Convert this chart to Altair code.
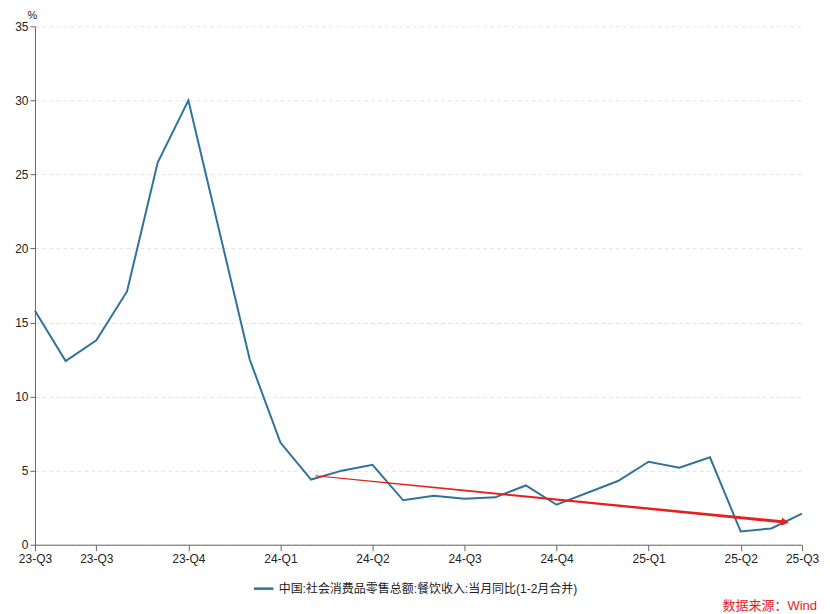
import altair as alt
import pandas as pd

# month index (0 = 2023-07 ... 25 = 2025-08); January values are merged into Jan-Feb
month_idx = [0, 1, 2, 3, 4, 5, 7, 8, 9, 10, 11, 12, 13, 14, 15, 16, 17, 19, 20, 21, 22, 23, 24, 25]
values = [15.8, 12.4, 13.8, 17.1, 25.8, 30.0, 12.5, 6.9, 4.4, 5.0, 5.4, 3.0, 3.3, 3.1, 3.2, 4.0, 2.7,
          4.3, 5.6, 5.2, 5.9, 0.9, 1.1, 2.1]
series_name = "中国:社会消费品零售总额:餐饮收入:当月同比(1-2月合并)"

tick_pos = [0, 2, 5, 8, 11, 14, 17, 20, 23, 25]
tick_labels = ["23-Q3", "23-Q3", "23-Q4", "24-Q1", "24-Q2", "24-Q3", "24-Q4", "25-Q1", "25-Q2", "25-Q3"]

# trend arrow (start / end in data units)
arrow_x = [9.15, 24.35]
arrow_y = [4.65, 1.55]
arrow_w = [1.0, 3.0]
head_x = [24.45]
head_y = [1.53]

source_text = "数据来源：Wind"

FONT = "Liberation Sans, Noto Sans CJK SC"
BLUE = "#2f7399"
RED = "#e5211d"

df = pd.DataFrame({"m": month_idx, "v": values, "s": [series_name] * len(values)})
arrow_df = pd.DataFrame({"m": arrow_x, "v": arrow_y, "w": arrow_w})
head_df = pd.DataFrame({"m": head_x, "v": head_y})

label_arr = [""] * 26
for p, l in zip(tick_pos, tick_labels):
    label_arr[p] = l
label_expr = "[" + ",".join("'" + l + "'" for l in label_arr) + "][datum.value]"

x_scale = alt.Scale(domain=[0, 25], nice=False, zero=False)
y_scale = alt.Scale(domain=[0, 35], nice=False)

x_axis = alt.Axis(values=tick_pos, labelExpr=label_expr, title=None, grid=False,
                  domainColor="#666", tickColor="#666", tickSize=6, labelPadding=3,
                  labelColor="#222", labelFontSize=12, labelFont=FONT, labelFlush=False)
y_axis = alt.Axis(values=[0, 5, 10, 15, 20, 25, 30, 35], title="%", titleAngle=0,
                  titleX=-8, titleY=-11, titleAlign="left", titleBaseline="middle",
                  titleFontWeight="normal",
                  titleFontSize=11, titleColor="#222", titleFont=FONT,
                  grid=True, gridColor="#e3e3e3", gridDash=[4, 3],
                  domainColor="#666", tickColor="#666", tickSize=5, labelPadding=2,
                  labelColor="#222", labelFontSize=12, labelFont=FONT)

line = alt.Chart(df).mark_line(strokeWidth=2).encode(
    x=alt.X("m:Q", scale=x_scale, axis=x_axis),
    y=alt.Y("v:Q", scale=y_scale, axis=y_axis),
    color=alt.Color("s:N", scale=alt.Scale(range=[BLUE]),
                    legend=alt.Legend(title=None, orient="none", legendX=218, legendY=552,
                                      symbolType="stroke", symbolStrokeWidth=2.5, symbolSize=380,
                                      labelFont=FONT, labelFontSize=12, labelColor="#222",
                                      labelLimit=500)),
)

arrow = alt.Chart(arrow_df).mark_trail(color=RED).encode(
    x="m:Q", y="v:Q",
    size=alt.Size("w:Q", scale=alt.Scale(domain=[1, 3], range=[1, 3]), legend=None),
)

head = alt.Chart(head_df).mark_point(shape="triangle-right", filled=True, color=RED,
                                     size=70, angle=5.7, opacity=1).encode(x="m:Q", y="v:Q")

source = alt.Chart(pd.DataFrame({"t": [source_text]})).mark_text(
    align="right", baseline="middle", color=RED, fontSize=13, font=FONT
).encode(x=alt.value(783), y=alt.value(580), text="t:N")

chart = alt.layer(line, arrow, head, source).properties(
    width=768, height=519,
    background="white",
    autosize=alt.AutoSizeParams(type="none"),
    padding={"left": 27, "top": 18, "right": 20, "bottom": 70},
).configure_view(stroke=None)

chart.save("out.html", embed_options={"renderer": "svg", "actions": False})
